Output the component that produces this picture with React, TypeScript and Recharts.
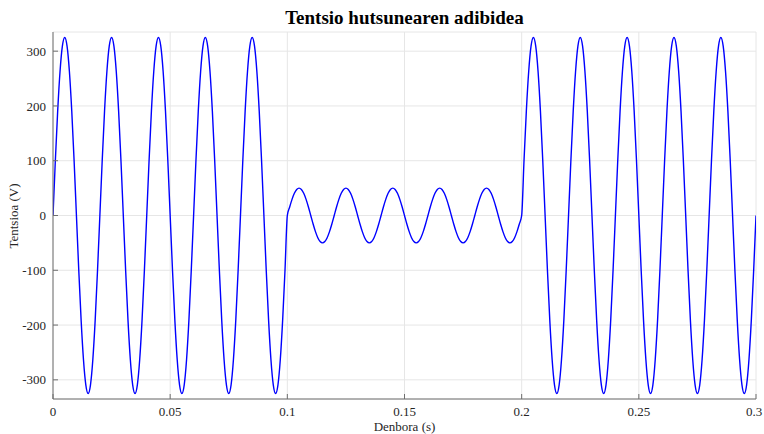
import { LineChart, Line, XAxis, YAxis, CartesianGrid } from 'recharts'

// voltage samples every 1 ms (V)
const sampleStepMs = 1

const voltsFirst = [
  0, 100.4, 191, 262.9, 309.1, 325, 309.1, 262.9, 191, 100.4, 0, -100.4, -191, -262.9, -309.1, -325, -309.1, -262.9, -191, -100.4,
  0, 100.4, 191, 262.9, 309.1, 325, 309.1, 262.9, 191, 100.4, 0, -100.4, -191, -262.9, -309.1, -325, -309.1, -262.9, -191, -100.4,
  0, 100.4, 191, 262.9, 309.1, 325, 309.1, 262.9, 191, 100.4, 0, -100.4, -191, -262.9, -309.1, -325, -309.1, -262.9, -191, -100.4,
  0, 100.4, 191, 262.9, 309.1, 325, 309.1, 262.9, 191, 100.4, 0, -100.4, -191, -262.9, -309.1, -325, -309.1, -262.9, -191, -100.4,
  0, 100.4, 191, 262.9, 309.1, 325, 309.1, 262.9, 191, 100.4, 0, -100.4, -191, -262.9, -309.1, -325, -309.1, -262.9, -191, -100.4,
]

// the sag: 0.1 s to 0.2 s
const voltsSag = [
  0, 15.5, 29.4, 40.5, 47.6, 50, 47.6, 40.5, 29.4, 15.5, 0, -15.5, -29.4, -40.5, -47.6, -50, -47.6, -40.5, -29.4, -15.5,
  0, 15.5, 29.4, 40.5, 47.6, 50, 47.6, 40.5, 29.4, 15.5, 0, -15.5, -29.4, -40.5, -47.6, -50, -47.6, -40.5, -29.4, -15.5,
  0, 15.5, 29.4, 40.5, 47.6, 50, 47.6, 40.5, 29.4, 15.5, 0, -15.5, -29.4, -40.5, -47.6, -50, -47.6, -40.5, -29.4, -15.5,
  0, 15.5, 29.4, 40.5, 47.6, 50, 47.6, 40.5, 29.4, 15.5, 0, -15.5, -29.4, -40.5, -47.6, -50, -47.6, -40.5, -29.4, -15.5,
  0, 15.5, 29.4, 40.5, 47.6, 50, 47.6, 40.5, 29.4, 15.5, 0, -15.5, -29.4, -40.5, -47.6, -50, -47.6, -40.5, -29.4, -15.5,
]

const voltsAfter = [
  0, 100.4, 191, 262.9, 309.1, 325, 309.1, 262.9, 191, 100.4, 0, -100.4, -191, -262.9, -309.1, -325, -309.1, -262.9, -191, -100.4,
  0, 100.4, 191, 262.9, 309.1, 325, 309.1, 262.9, 191, 100.4, 0, -100.4, -191, -262.9, -309.1, -325, -309.1, -262.9, -191, -100.4,
  0, 100.4, 191, 262.9, 309.1, 325, 309.1, 262.9, 191, 100.4, 0, -100.4, -191, -262.9, -309.1, -325, -309.1, -262.9, -191, -100.4,
  0, 100.4, 191, 262.9, 309.1, 325, 309.1, 262.9, 191, 100.4, 0, -100.4, -191, -262.9, -309.1, -325, -309.1, -262.9, -191, -100.4,
  0, 100.4, 191, 262.9, 309.1, 325, 309.1, 262.9, 191, 100.4, 0, -100.4, -191, -262.9, -309.1, -325, -309.1, -262.9, -191, -100.4,
  0,
]

const xTicks = [0, 0.05, 0.1, 0.15, 0.2, 0.25, 0.3]
const yTicks = [-300, -200, -100, 0, 100, 200, 300]

const allVolts = [...voltsFirst, ...voltsSag, ...voltsAfter]
const data = allVolts.map((v, i) => ({ t: (i * sampleStepMs) / 1000, v }))

const FONT = '"Liberation Serif", "DejaVu Serif", serif'
const AXIS = '#6e6e6e'
const TEXT = '#262626'

function XTick({ x, y, payload }: any) {
  return (
    <text x={x} y={y} dy="0.71em" textAnchor="middle" fontSize={13} fill={TEXT} fontFamily={FONT}>
      {String(payload.value)}
    </text>
  )
}

function YTick({ x, y, payload }: any) {
  return (
    <text x={x} y={y} dy="0.355em" textAnchor="end" fontSize={13} fill={TEXT} fontFamily={FONT}>
      {String(payload.value)}
    </text>
  )
}

export default function App() {
  return (
    <div
      style={{
        position: 'absolute', left: 0, top: 0, width: 764, height: 434, background: '#fff',
        overflow: 'hidden', fontFamily: FONT,
      }}
    >
      <div
        style={{
          position: 'absolute', left: 53, top: 7, width: 703, textAlign: 'center',
          fontWeight: 'bold', fontSize: 19, color: '#000',
        }}
      >
        Tentsio hutsunearen adibidea
      </div>
      <div
        style={{
          position: 'absolute', left: 53, top: 419, width: 703, textAlign: 'center',
          fontSize: 13, color: TEXT,
        }}
      >
        Denbora (s)
      </div>
      <div
        style={{
          position: 'absolute', left: 14, top: 216, transform: 'translate(-50%, -50%) rotate(-90deg)',
          fontSize: 13, color: TEXT, whiteSpace: 'nowrap',
        }}
      >
        Tentsioa (V)
      </div>
      <LineChart
        width={764} height={434} data={data}
        margin={{ top: 32, right: 8, bottom: 5, left: 13 }}
      >
        <CartesianGrid stroke="#e6e6e6" />
        <XAxis
          dataKey="t" type="number" domain={[0, 0.3]} ticks={xTicks} allowDataOverflow
          height={30} tickSize={-5} tickMargin={13} stroke={AXIS} tick={<XTick />}
        />
        <XAxis
          xAxisId="top" orientation="top" dataKey="t" type="number" domain={[0, 0.3]} ticks={xTicks}
          height={0} tickSize={-5} stroke={AXIS} tickFormatter={() => ''}
        />
        <YAxis
          type="number" domain={[-335, 335]} ticks={yTicks} allowDataOverflow
          width={40} tickSize={-5} tickMargin={12} stroke={AXIS} tick={<YTick />}
        />
        <YAxis
          yAxisId="right" orientation="right" type="number" domain={[-335, 335]} ticks={yTicks}
          width={0} tickSize={-5} stroke={AXIS} tickFormatter={() => ''}
        />
        <Line
          dataKey="v" type="monotone" stroke="#0000ff" strokeWidth={1.4}
          dot={false} isAnimationActive={false}
        />
      </LineChart>
    </div>
  )
}
